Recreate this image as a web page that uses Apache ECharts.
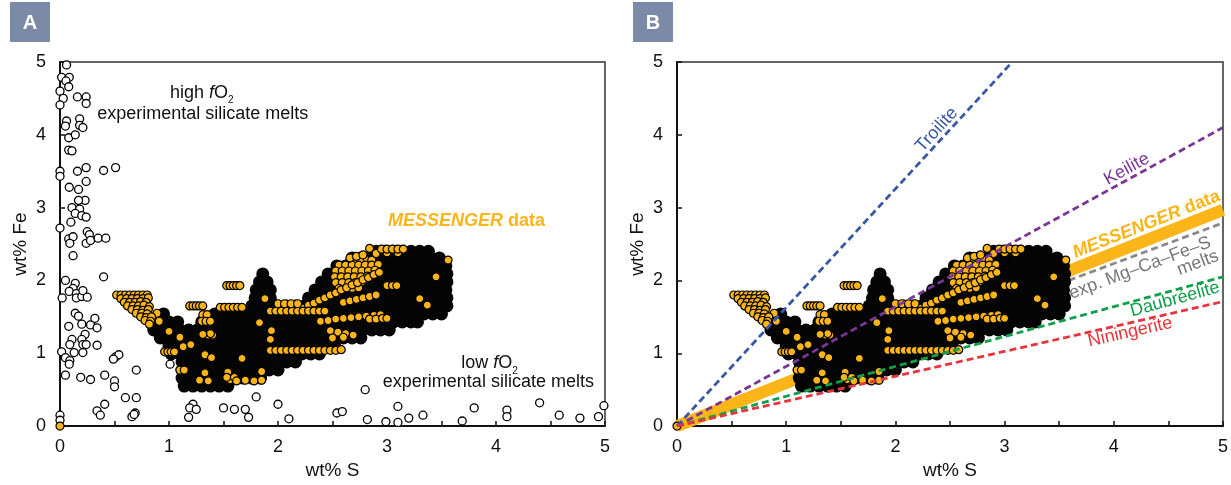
<!DOCTYPE html>
<html><head><meta charset="utf-8">
<script src="https://cdn.jsdelivr.net/npm/echarts@6/dist/echarts.min.js"></script>
<style>html,body{margin:0;padding:0;background:#fff}#c{width:1231px;height:485px}</style>
</head><body><div id="c"></div>
<script>
// ---------- data ----------
const xTickLabels = [0, 1, 2, 3, 4, 5];
const yTickLabels = [0, 1, 2, 3, 4, 5];

// experimental silicate melts (open circles), [wt% S, wt% Fe]
const expMelts = [
 [0.06,4.96],[0.015,4.79],[0.085,4.79],[0.055,4.74],[0.08,4.66],[0,4.6],[0.03,4.5],[0,4.41],[0.16,4.52],[0.24,4.52],[0.24,4.43],
 [0.06,4.19],[0.18,4.22],[0.05,4.12],[0.18,4.13],[0.21,4.1],[0.08,3.96],[0.14,4.0],[0.08,3.79],[0.11,3.78],
 [0,3.5],[0,3.43],[0.16,3.5],[0.24,3.55],[0.4,3.51],[0.51,3.55],
 [0.24,3.36],[0.085,3.28],[0.17,3.25],
 [0.11,3.0],[0.18,2.98],[0.23,3.1],[0.17,3.1],[0.14,2.92],[0.2,2.89],[0.24,2.87],
 [0,2.72],[0.1,2.8],[0.08,2.57],[0.12,2.6],[0.09,2.51],[0.12,2.34],[0.25,2.67],[0.27,2.63],[0.24,2.51],[0.28,2.55],[0.35,2.58],[0.42,2.58],[0.4,2.05],
 [0.05,2.0],[0.02,1.76],[0.14,1.96],[0.12,1.89],[0.085,1.85],[0.15,1.82],[0.15,1.76],[0.2,1.78],[0.21,1.86],[0.25,1.77],
 [0.14,1.55],[0.17,1.51],[0.2,1.4],[0.08,1.37],[0.28,1.39],[0.32,1.48],[0.34,1.35],[0.23,1.26],[0.2,1.19],[0.21,1.12],[0.24,1.12],[0.11,1.19],[0.09,1.12],[0.34,1.11],[0.21,1.01],[0.13,1.01],[0.015,1.02],[0.05,0.94],[0.09,0.9],[0.085,0.85],[0.05,0.7],[0.19,0.67],[0.28,0.64],[0.41,0.7],
 [0.5,0.62],[0.5,0.54],[0.51,0.95],[0.54,0.98],[0.49,0.92],[0.7,0.77],[0.6,0.39],[0.7,0.39],[0.41,0.3],[0.34,0.21],[0.37,0.15],[0.66,0.13],[0.69,0.18],[0.68,0.16],
 [0,0.15],[0,0.08],
 [1.01,0.85],[1.22,0.3],[1.19,0.25],[1.18,0.12],[1.25,0.23],[1.5,0.25],[1.6,0.23],[1.7,0.23],[1.73,0.12],[1.8,0.4],[2.0,0.3],[2.1,0.1],
 [2.8,0.5],[2.54,0.18],[2.59,0.2],[2.82,0.09],[2.99,0.06],[3.1,0.27],[3.1,0.05],[3.2,0.11],[3.33,0.15],[3.69,0.07],[3.8,0.25],[4.1,0.22],[4.1,0.13],[4.4,0.32],[4.58,0.15],[4.77,0.11],[4.94,0.13],[4.99,0.28]
];

// MESSENGER data: dense (overlapping, black-looking) core, rows of [wt% Fe, wt% S, wt% S, ...]
const cloudCoreRows = [
 [0.55, 1.14,1.22,1.30,1.38,1.46,1.54],
 [0.66, 1.12,1.20,1.28,1.36,1.44,1.52,1.60,1.68,1.76,1.84],
 [0.77, 1.12,1.20,1.28,1.36,1.44,1.52,1.60,1.68,1.76,1.84,1.92,2.00],
 [0.88, 1.12,1.20,1.28,1.36,1.44,1.52,1.60,1.68,1.76,1.84,1.92,2.00,2.08,2.16],
 [0.99, 1.02,1.10,1.18,1.26,1.34,1.42,1.50,1.58,1.66,1.74,1.82,1.90,1.98,2.06,2.14,2.22,2.30,2.38],
 [1.10, 1.00,1.08,1.16,1.24,1.32,1.40,1.48,1.56,1.64,1.72,1.80,1.88,1.96,2.04,2.12,2.20,2.28,2.36,2.44,2.52],
 [1.21, 0.92,1.00,1.08,1.16,1.24,1.32,1.40,1.48,1.56,1.64,1.72,1.80,1.88,1.96,2.04,2.12,2.20,2.28,2.36,2.44,2.52,2.60,2.68,2.76],
 [1.32, 0.86,0.94,1.02,1.10,1.18,1.26,1.34,1.42,1.50,1.58,1.66,1.74,1.82,1.90,1.98,2.06,2.14,2.22,2.30,2.38,2.46,2.54,2.62,2.70,2.78,2.86,2.94,3.02],
 [1.43, 0.84,0.92,1.00,1.08, 1.30,1.38,1.46,1.54,1.62,1.70,1.78,1.86,1.94,2.02,2.10,2.18,2.26,2.34,2.42,2.50,2.58,2.66,2.74,2.82,2.90,2.98,3.06,3.14,3.22,3.28],
 [1.54, 0.95, 1.42,1.50,1.58,1.66,1.74,1.82,1.90,1.98,2.06,2.14,2.22,2.30,2.38,2.46,2.54,2.62,2.70,2.78,2.86,2.94,3.02,3.10,3.18,3.26,3.34,3.42,3.50],
 [1.65, 1.76,1.84,1.92,2.00,2.08,2.16,2.24,2.32,2.40,2.48,2.56,2.64,2.72,2.80,2.88,2.96,3.04,3.12,3.20,3.28,3.36,3.44,3.52,3.55],
 [1.76, 1.79,1.86,1.93, 2.28,2.36,2.44,2.52,2.60,2.68,2.76,2.84,2.92,3.00,3.08,3.16,3.24,3.32,3.40,3.48,3.55],
 [1.87, 1.80,1.87,1.93, 2.34,2.42,2.50,2.58,2.66,2.74,2.82,2.90,2.98,3.06,3.14,3.22,3.30,3.38,3.46,3.54],
 [1.98, 1.83,1.90, 2.40,2.48,2.56,2.64,2.72,2.80,2.88,2.96,3.04,3.12,3.20,3.28,3.36,3.44,3.52,3.55],
 [2.09, 1.86, 2.46,2.54,2.62,2.70,2.78,2.86,2.94,3.02,3.10,3.18,3.26,3.34,3.42,3.50,3.55],
 [2.20, 2.54,2.62,2.70,2.78,2.86,2.94,3.02,3.10,3.18,3.26,3.34,3.42,3.50,3.54],
 [2.31, 2.68,2.76,2.84,2.92,3.00,3.08,3.16,3.24,3.32,3.40,3.48],
 [2.40, 2.90,2.98,3.06,3.14,3.22,3.30,3.38]
];

// MESSENGER data: individually visible points [wt% S, wt% Fe]
const cloudDots = [
 [0,0],
 [0.52,1.80],[0.56,1.80],[0.60,1.80],[0.64,1.80],[0.68,1.80],[0.72,1.80],[0.76,1.80],[0.80,1.80],
 [0.56,1.75],[0.61,1.75],[0.66,1.75],[0.71,1.75],[0.76,1.75],[0.81,1.76],
 [0.59,1.70],[0.64,1.70],[0.69,1.70],[0.74,1.71],[0.79,1.70],
 [0.62,1.65],[0.67,1.65],[0.72,1.65],[0.77,1.66],[0.82,1.64],
 [0.66,1.60],[0.71,1.60],[0.76,1.59],[0.81,1.60],
 [0.70,1.55],[0.75,1.55],[0.80,1.54],[0.89,1.55],
 [0.74,1.50],[0.79,1.49],[0.84,1.50],
 [0.78,1.45],[0.83,1.44],[0.91,1.44],
 [0.82,1.40],
 [1.53,1.93],[1.56,1.93],[1.59,1.93],[1.62,1.93],[1.65,1.93],
 [1.19,1.65],[1.22,1.65],[1.25,1.65],[1.28,1.65],[1.31,1.65],
 [1.47,1.63],[1.51,1.63],[1.55,1.63],[1.59,1.63],[1.63,1.63],[1.67,1.63],
 [1.31,1.53],[1.35,1.53],[1.30,1.44],[1.34,1.44],[1.38,1.44],[1.36,1.25],[1.40,1.25],
 [0.96,1.02],[0.99,1.02],[1.02,1.02],[1.05,1.02],
 [1.38,1.27],[1.33,0.73],[1.54,0.74],[1.56,0.64],[1.67,0.93],[1.85,0.75],[1.83,1.42],[1.93,1.19],[1.13,1.09],[1.31,1.26],[1.33,0.98],[1.39,0.94],[1.53,0.67],[1.60,0.67],[1.94,1.31],
 [1.28,0.63],[1.36,0.62],[1.62,0.62],[1.70,0.63],[1.78,0.62],[1.85,0.63],
 [1.10,0.77],[1.14,0.77],[1.00,1.30],[1.10,1.22],[1.20,1.12],[1.88,1.75],
 [2.70,2.28],[2.76,2.28],[2.82,2.28],[2.86,2.28],
 [2.56,2.21],[2.62,2.21],[2.68,2.21],[2.74,2.21],[2.80,2.21],[2.86,2.21],[2.92,2.22],
 [2.53,2.13],[2.59,2.13],[2.65,2.13],[2.71,2.13],[2.77,2.13],[2.83,2.13],[2.89,2.14],
 [2.52,2.05],[2.58,2.05],[2.64,2.05],[2.70,2.05],[2.76,2.05],[2.82,2.06],
 [2.53,1.97],[2.59,1.97],[2.65,1.97],[2.71,1.97],[2.77,1.98],
 [2.56,1.89],[2.62,1.89],[2.68,1.89],[2.74,1.90],
 [2.23,1.62],[2.28,1.66],[2.33,1.69],[2.38,1.73],[2.43,1.76],[2.48,1.80],[2.53,1.83],[2.58,1.87],[2.63,1.90],[2.68,1.94],[2.73,1.97],[2.78,2.01],[2.83,2.04],[2.88,2.08],[2.93,2.11],
 [1.93,1.58],[1.98,1.58],[2.03,1.58],[2.08,1.58],[2.13,1.58],[2.18,1.58],[2.23,1.58],[2.28,1.58],[2.33,1.58],[2.38,1.58],[2.43,1.58],
 [2.39,1.44],[2.46,1.45],[2.53,1.47],[2.60,1.48],[2.67,1.49],[2.74,1.50],[2.81,1.51],[2.88,1.52],[2.94,1.53],
 [1.93,1.04],[1.98,1.04],[2.03,1.04],[2.08,1.04],[2.13,1.04],[2.18,1.04],[2.23,1.04],[2.28,1.04],[2.33,1.04],[2.38,1.04],[2.43,1.04],[2.48,1.04],[2.53,1.04],[2.58,1.05],
 [2.48,1.31],[2.55,1.29],[2.62,1.27],[2.69,1.25],[2.50,1.21],[2.60,1.22],
 [2.84,1.47],[2.90,1.47],[2.96,1.48],[3.00,1.48],
 [3.00,1.93],[3.05,1.93],[3.09,1.93],
 [2.84,2.44],[3.56,2.28],[3.37,1.66],[3.45,2.05],[3.30,1.75],
 [2.66,2.31],[2.72,2.33],[2.78,2.35],[2.90,2.37],[3.00,2.38],[3.10,2.38],
 [2.95,2.43],[3.00,2.43],[3.05,2.43],[3.10,2.43],[3.15,2.43],
 [2.60,1.70],[2.66,1.72],[2.72,1.74],[2.78,1.76],[2.84,1.78],[2.90,1.80],
 [2.00,1.68],[2.06,1.68],[2.12,1.68],[2.18,1.68]
];

// Fe/S reference lines (panel B), end points from origin
const troiliteLine   = [[0,0],[3.07,5]];
const keiliteLine    = [[0,0],[5,4.1]];
const messengerBand  = [[0,0],[5,2.97]];
const expMeltLine    = [[0,0],[5,2.79]];
const daubreeliteLine= [[0,0],[5,2.05]];
const niningeriteLine= [[0,0],[5,1.71]];

// annotations
const aLabelText = ['{n|high }{i|f}{n|O}{s|2}', 'experimental silicate melts', '{mi|MESSENGER}{mb| data}', '{n|low }{i|f}{n|O}{s|2}', 'experimental silicate melts'];
const aLabelPos  = [[1.30,4.58],[1.31,4.28],[3.73,2.81],[3.94,0.86],[3.93,0.60]];
const bLabelText = ['Troilite','Keilite','{mi|MESSENGER}{mb| data}','exp. Mg–Ca–Fe–S','melts','Daubréelite','Niningerite'];
const bLabelPos  = [[2.38,4.07],[4.12,3.53],[4.30,2.77],[4.24,2.17],[4.77,2.24],[4.56,1.74],[4.15,1.29]];
const bLabelRot  = [47.6,28.8,21.7,20.5,20.5,15.4,12.9];

// ---------- styles ----------
const FF = '"Liberation Sans", Arial, sans-serif';
const ORANGE = '#FBB518';
const TXT = '#111111';
const C_TRO = '#3a57a8', C_KEI = '#7a3596', C_GRAY = '#8a8a8a', C_DAU = '#10a04a', C_NIN = '#e8343c';
const bLabelColor = [C_TRO, C_KEI, ORANGE, '#777777', '#777777', C_DAU, C_NIN];

const coreData = [];
cloudCoreRows.forEach(r => { for (let i = 1; i < r.length; i++) coreData.push([r[i], r[0]]); });

const NB = {textBorderWidth:0, textBorderColor:'transparent', textShadowBlur:0, opacity:1};
const rich = {
  n: Object.assign({fontSize:18, fontFamily:FF, lineHeight:26, color:TXT}, NB),
  i: Object.assign({fontSize:18, fontFamily:FF, fontStyle:'italic', lineHeight:26, color:TXT}, NB),
  s: Object.assign({fontSize:10, fontFamily:FF, lineHeight:10, verticalAlign:'bottom', color:TXT}, NB),
  mi:Object.assign({fontSize:18, fontFamily:FF, fontStyle:'italic', fontWeight:'bold', color:ORANGE}, NB),
  mb:Object.assign({fontSize:18, fontFamily:FF, fontWeight:'bold', color:ORANGE}, NB)
};

function xAx(gi){
  return {type:'value', gridIndex:gi, min:0, max:5, interval:0.5,
    name:'wt% S', nameLocation:'middle', nameGap:34,
    nameTextStyle:{fontSize:19, color:TXT, fontFamily:FF},
    axisLine:{onZero:false, lineStyle:{color:'#111', width:2}},
    axisTick:{inside:true, length:5, lineStyle:{color:'#111', width:1.5}},
    axisLabel:{fontSize:18, color:TXT, fontFamily:FF, margin:12,
      formatter: v => xTickLabels.indexOf(v) >= 0 ? String(v) : ''},
    splitLine:{show:false}};
}
function yAx(gi){
  return {type:'value', gridIndex:gi, min:0, max:5, interval:1,
    name:'wt% Fe', nameLocation:'middle', nameGap:30,
    nameTextStyle:{fontSize:19, color:TXT, fontFamily:FF},
    axisLine:{onZero:false, lineStyle:{color:'#111', width:2}},
    axisTick:{inside:true, length:5, lineStyle:{color:'#111', width:1.5}},
    axisLabel:{fontSize:18, color:TXT, fontFamily:FF, margin:14,
      formatter: v => yTickLabels.indexOf(v) >= 0 ? String(v) : ''},
    splitLine:{show:false}};
}
function cloud(gi){
  return [
    {type:'scatter', xAxisIndex:gi, yAxisIndex:gi, data:coreData, symbolSize:13, clip:false, silent:true,
     itemStyle:{color:'#050505', opacity:1}, z:3},
    {type:'scatter', xAxisIndex:gi, yAxisIndex:gi, data:cloudDots, symbolSize:8, clip:false, silent:true,
     itemStyle:{color:ORANGE, borderColor:'#000', borderWidth:1.2, opacity:1}, z:4}
  ];
}
function dashLine(data, color, z){
  return {type:'line', xAxisIndex:1, yAxisIndex:1, data:data, showSymbol:false, symbol:'none', silent:true,
    lineStyle:{color:color, width:2.8, type:[7,4]}, z:z};
}
function labels(gi, texts, pos, rot, colors){
  return {type:'scatter', xAxisIndex:gi, yAxisIndex:gi, symbol:'circle', symbolSize:0, silent:true, clip:false,
    itemStyle:{color:'#fff', opacity:0}, z:6,
    label:Object.assign({show:true, position:'inside', fontSize:18, fontFamily:FF, color:TXT, rich:rich}, NB),
    data: texts.map((t,i) => ({value:pos[i], label:Object.assign({formatter:t, rotate: rot ? rot[i] : 0,
      color: colors ? colors[i] : (t.indexOf('MESSENGER')>=0 ? ORANGE : TXT)}, NB)}))};
}

const series = [
  {type:'scatter', xAxisIndex:0, yAxisIndex:0, data:expMelts, symbolSize:8, clip:false, silent:true,
   itemStyle:{color:'#fff', borderColor:'#000', borderWidth:1.3, opacity:1}, z:2},
  ...cloud(0),
  labels(0, aLabelText, aLabelPos, null, null),
  {type:'line', xAxisIndex:1, yAxisIndex:1, data:messengerBand, showSymbol:false, symbol:'none', silent:true, clip:false,
   lineStyle:{color:ORANGE, width:12, cap:'butt'}, z:2},
  dashLine(expMeltLine, C_GRAY, 1),
  ...cloud(1),
  dashLine(troiliteLine, C_TRO, 5),
  dashLine(keiliteLine, C_KEI, 5),
  dashLine(daubreeliteLine, C_DAU, 5),
  dashLine(niningeriteLine, C_NIN, 5),
  labels(1, bLabelText, bLabelPos, bLabelRot, bLabelColor)
];

const chart = echarts.init(document.getElementById('c'), null, {renderer:'canvas'});
chart.setOption({
  animation:false,
  backgroundColor:'#fff',
  grid:[
    {left:60, top:62, width:545, height:367, show:true, borderColor:'#333', borderWidth:1.5, backgroundColor:'transparent'},
    {left:677, top:62, width:547, height:367, show:true, borderColor:'#333', borderWidth:1.5, backgroundColor:'transparent'}
  ],
  xAxis:[xAx(0), xAx(1)],
  yAxis:[yAx(0), yAx(1)],
  series: series,
  graphic:[
    {type:'rect', shape:{x:10, y:2, width:40, height:40}, style:{fill:'#7b8ba7'}},
    {type:'text', x:30, y:23, style:{text:'A', fill:'#fff', font:'bold 20px "Liberation Sans", Arial', align:'center', verticalAlign:'middle'}},
    {type:'rect', shape:{x:633, y:2, width:40, height:40}, style:{fill:'#7b8ba7'}},
    {type:'text', x:653, y:23, style:{text:'B', fill:'#fff', font:'bold 20px "Liberation Sans", Arial', align:'center', verticalAlign:'middle'}}
  ]
});
</script></body></html>
